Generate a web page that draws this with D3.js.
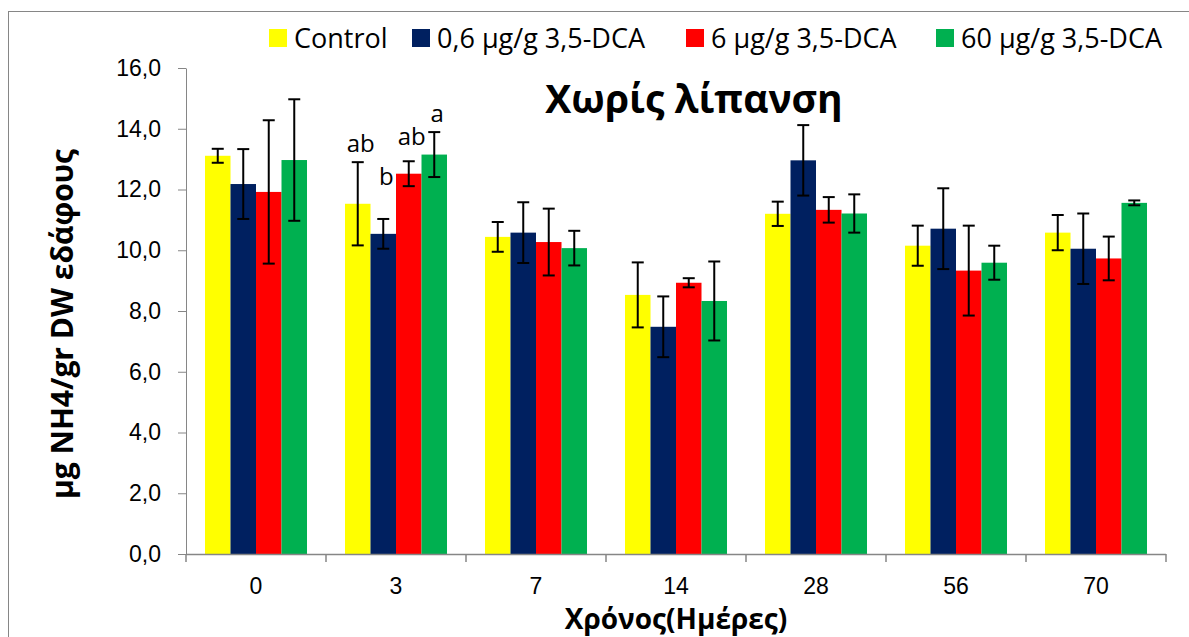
<!DOCTYPE html>
<html>
<head>
<meta charset="utf-8">
<script src="https://cdn.jsdelivr.net/npm/d3@7"></script>
<style>
  html, body { margin: 0; padding: 0; background: #fff; }
  svg { display: block; font-family: "Open Sans", "Noto Sans", sans-serif; }
</style>
</head>
<body>
<svg id="chart" width="1189" height="637"></svg>
<script>
// Sampling days (x categories)
const days = ["0", "3", "7", "14", "28", "56", "70"];

// Series names (legend order)
const seriesNames = ["Control", "0,6 μg/g 3,5-DCA", "6 μg/g 3,5-DCA", "60 μg/g 3,5-DCA"];

// Mean values, μg NH4 / gr DW soil
const controlVals = [13.11, 11.53, 10.44, 8.53, 11.20, 10.15, 10.58];
const dca06Vals   = [12.18, 10.54, 10.58, 7.48, 12.96, 10.71, 10.05];
const dca6Vals    = [11.92, 12.52, 10.27, 8.93, 11.33,  9.33,  9.73];
const dca60Vals   = [12.97, 13.15, 10.07, 8.33, 11.21,  9.59, 11.56];

// Standard deviations (error bars)
const controlErr = [0.23, 1.37, 0.49, 1.07, 0.40, 0.66, 0.58];
const dca06Err   = [1.15, 0.49, 1.00, 1.00, 1.16, 1.33, 1.16];
const dca6Err    = [2.36, 0.41, 1.10, 0.15, 0.42, 1.48, 0.72];
const dca60Err   = [2.00, 0.74, 0.57, 1.30, 0.63, 0.56, 0.08];

// Y axis ticks
const yTicks = [0, 2, 4, 6, 8, 10, 12, 14, 16];

// Significance letters for day 3 (one per series) and the level they sit at
const sigDay = "3";
const sigLetters = ["ab", "b", "ab", "a"];
const sigLevels = [13.25, 12.16, 13.48, 14.23];

const colors = ["#FFFF00", "#002060", "#FF0000", "#00B050"];

const values = [controlVals, dca06Vals, dca6Vals, dca60Vals];
const errors = [controlErr, dca06Err, dca6Err, dca60Err];

const rows = [];
days.forEach((d, i) => {
  seriesNames.forEach((s, j) => {
    rows.push({ day: d, series: s, si: j, value: values[j][i], err: errors[j][i] });
  });
});

const svg = d3.select("#chart");
const axisColor = "#868686";
const tickFont = "'Liberation Sans', Arial, sans-serif";

// Chart-area frame
svg.append("rect")
  .attr("x", 8.5).attr("y", 11.5)
  .attr("width", 1200).attr("height", 700)
  .attr("fill", "none").attr("stroke", axisColor).attr("stroke-width", 1);

const plot = { left: 186, right: 1166, top: 68, bottom: 554 };

const x = d3.scaleBand()
  .domain(days)
  .range([plot.left, plot.right])
  .paddingInner(0.2714)
  .paddingOuter(0.1357);

const xs = d3.scaleBand()
  .domain(seriesNames)
  .range([0, x.bandwidth()])
  .padding(0);

const y = d3.scaleLinear().domain([0, 16]).range([plot.bottom, plot.top]);

// Bars
const g = svg.append("g");
g.selectAll("rect.bar")
  .data(rows)
  .join("rect")
  .attr("class", "bar")
  .attr("x", d => x(d.day) + xs(d.series))
  .attr("y", d => y(d.value))
  .attr("width", xs.bandwidth())
  .attr("height", d => y(0) - y(d.value))
  .attr("fill", d => colors[d.si]);

// Error bars
const capHalf = 6;
const eb = g.selectAll("g.err").data(rows).join("g").attr("class", "err")
  .attr("stroke", "#000").attr("stroke-width", 2);
eb.append("line")
  .attr("x1", d => x(d.day) + xs(d.series) + xs.bandwidth() / 2)
  .attr("x2", d => x(d.day) + xs(d.series) + xs.bandwidth() / 2)
  .attr("y1", d => y(d.value + d.err))
  .attr("y2", d => y(d.value - d.err));
["+", "-"].forEach(sign => {
  eb.append("line")
    .attr("x1", d => x(d.day) + xs(d.series) + xs.bandwidth() / 2 - capHalf)
    .attr("x2", d => x(d.day) + xs(d.series) + xs.bandwidth() / 2 + capHalf)
    .attr("y1", d => y(sign === "+" ? d.value + d.err : d.value - d.err))
    .attr("y2", d => y(sign === "+" ? d.value + d.err : d.value - d.err));
});

// Y axis
const yAxis = svg.append("g")
  .attr("transform", `translate(${plot.left},0)`)
  .call(d3.axisLeft(y).tickValues(yTicks).tickSize(8).tickSizeOuter(0).tickPadding(17)
    .tickFormat(d => d.toFixed(1).replace(".", ",")));
yAxis.select(".domain").attr("stroke", axisColor);
yAxis.selectAll(".tick line").attr("stroke", axisColor);
yAxis.selectAll(".tick text").attr("fill", "#000").style("font-size", "23px")
  .style("font-family", tickFont);

// X axis (labels)
const xAxis = svg.append("g")
  .attr("transform", `translate(0,${plot.bottom})`)
  .call(d3.axisBottom(x).tickSize(0).tickSizeOuter(0).tickPadding(23.5));
xAxis.select(".domain").remove();
xAxis.selectAll(".tick text").attr("fill", "#000").style("font-size", "23px")
  .style("font-family", tickFont);

// X axis line and boundary ticks between categories
const boundaries = days.map(d => x(d) - x.step() * x.paddingInner() / 2).concat([plot.right]);
svg.append("line")
  .attr("x1", plot.left).attr("x2", plot.right)
  .attr("y1", plot.bottom + 0.5).attr("y2", plot.bottom + 0.5)
  .attr("stroke", axisColor).attr("stroke-width", 1.5);
svg.selectAll("line.xb").data(boundaries).join("line").attr("class", "xb")
  .attr("x1", d => d).attr("x2", d => d)
  .attr("y1", plot.bottom).attr("y2", plot.bottom + 8)
  .attr("stroke", axisColor).attr("stroke-width", 1.5);

// Significance letters
svg.selectAll("text.sig")
  .data(sigLetters.map((t, j) => ({ t, series: seriesNames[j], level: sigLevels[j] })))
  .join("text").attr("class", "sig")
  .attr("x", d => x(sigDay) + xs(d.series) + xs.bandwidth() / 2 + 3)
  .attr("y", d => y(d.level))
  .attr("text-anchor", "middle")
  .style("font-size", "24px")
  .text(d => d.t);

// Title
svg.append("text")
  .attr("x", 694).attr("y", 113)
  .attr("text-anchor", "middle")
  .style("font-size", "39px").style("font-weight", "bold")
  .text("Χωρίς λίπανση");

// Axis titles
svg.append("text")
  .attr("transform", "translate(73,324) rotate(-90)")
  .attr("text-anchor", "middle")
  .style("font-size", "30px").style("font-weight", "bold")
  .text("μg NH4/gr DW εδάφους");

svg.append("text")
  .attr("x", 676).attr("y", 628.5)
  .attr("text-anchor", "middle")
  .style("font-size", "28px").style("font-weight", "bold")
  .text("Χρόνος(Ημέρες)");

// Legend
const legendX = [269, 412, 686, 936];
const lg = svg.selectAll("g.leg").data(seriesNames).join("g").attr("class", "leg")
  .attr("transform", (d, i) => `translate(${legendX[i]},29)`);
lg.append("rect").attr("width", 18).attr("height", 18).attr("fill", (d, i) => colors[i]);
lg.append("text").attr("x", 25).attr("y", 19)
  .style("font-size", "27px")
  .text(d => d);
</script>
</body>
</html>
